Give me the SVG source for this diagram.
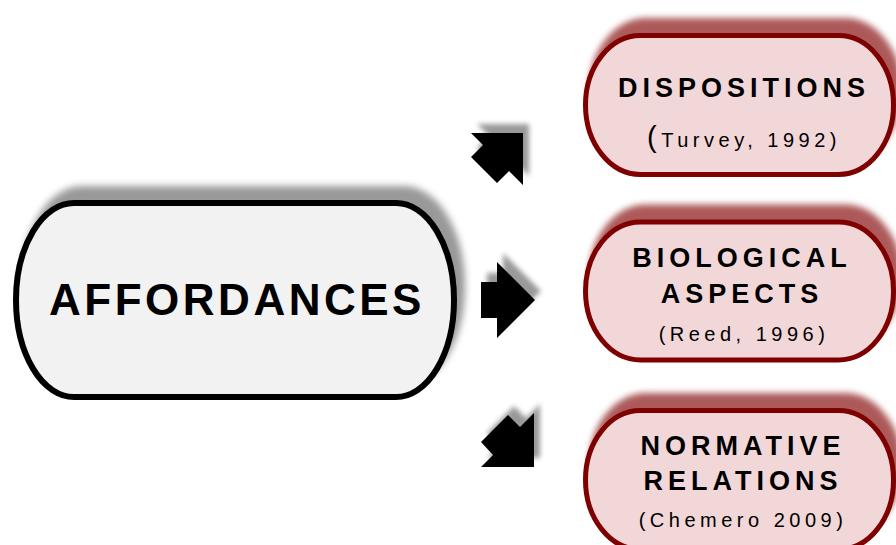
<svg xmlns="http://www.w3.org/2000/svg" width="896" height="545" viewBox="0 0 896 545">
<defs>
<filter id="shGrey" x="-20%" y="-30%" width="140%" height="160%">
<feGaussianBlur in="SourceAlpha" stdDeviation="3.5"/>
<feOffset dx="8" dy="-14" result="b"/>
<feFlood flood-color="#000" flood-opacity="0.4"/>
<feComposite in2="b" operator="in"/>
<feMerge><feMergeNode/><feMergeNode in="SourceGraphic"/></feMerge>
</filter>
<filter id="shRed" x="-20%" y="-40%" width="140%" height="180%">
<feGaussianBlur in="SourceAlpha" stdDeviation="3"/>
<feOffset dx="6" dy="-15" result="b"/>
<feFlood flood-color="#800000" flood-opacity="0.65"/>
<feComposite in2="b" operator="in"/>
<feMerge><feMergeNode/><feMergeNode in="SourceGraphic"/></feMerge>
</filter>
<filter id="shArrow" x="-40%" y="-40%" width="180%" height="180%">
<feGaussianBlur in="SourceAlpha" stdDeviation="2.5"/>
<feOffset dx="6" dy="-9" result="b"/>
<feFlood flood-color="#000" flood-opacity="0.4"/>
<feComposite in2="b" operator="in"/>
<feMerge><feMergeNode/><feMergeNode in="SourceGraphic"/></feMerge>
</filter>
<style>
.main{fill:#f2f2f2;stroke:#000;stroke-width:6}
.sub{fill:#f2d7d9;stroke:#7f0000;stroke-width:5}
.big{font-family:"Liberation Sans",Arial,sans-serif;font-weight:bold;font-size:44px;letter-spacing:3.5px;fill:#000}
.ttl{font-family:"Liberation Sans",Arial,sans-serif;font-weight:bold;font-size:27px;letter-spacing:5px;fill:#000}
.ref{font-family:"Liberation Sans",Arial,sans-serif;font-size:20px;letter-spacing:4.5px;fill:#000}
.arrow{fill:#000}
</style>
</defs>
<g id="affordances">
<rect class="main" x="16" y="203" width="438" height="194" rx="58" ry="97" filter="url(#shGrey)"/>
<text class="big" x="237" y="315" text-anchor="middle">AFFORDANCES</text>
</g>
<g id="dispositions">
<rect class="sub" x="585.5" y="35.5" width="308" height="139" rx="55" ry="69.5" filter="url(#shRed)"/>
<text class="ttl" x="744" y="97" text-anchor="middle">DISPOSITIONS</text>
<text class="ref" x="744" y="147" text-anchor="middle"><tspan font-size="29px">(</tspan>Turvey, 1992)</text>
</g>
<g id="biological">
<rect class="sub" x="585.5" y="222" width="308" height="138" rx="55" ry="69" filter="url(#shRed)"/>
<text class="ttl" x="742" y="267" text-anchor="middle">BIOLOGICAL</text>
<text class="ttl" x="742" y="303" text-anchor="middle">ASPECTS</text>
<text class="ref" x="744" y="341" text-anchor="middle">(Reed, 1996)</text>
</g>
<g id="normative">
<rect class="sub" x="585.5" y="410.5" width="308" height="139" rx="55" ry="69.5" filter="url(#shRed)"/>
<text class="ttl" x="743" y="455" text-anchor="middle">NORMATIVE</text>
<text class="ttl" x="743" y="490" text-anchor="middle">RELATIONS</text>
<text class="ref" x="743" y="527" text-anchor="middle">(Chemero 2009)</text>
</g>
<g id="connectors">
<polygon class="arrow" filter="url(#shArrow)" points="471,133 523,133 523,185 509,171 497,183 471,157 483,145"/>
<polygon class="arrow" filter="url(#shArrow)" points="481,282 497,282 497,262 535,300 497,338 497,318 481,318"/>
<polygon class="arrow" filter="url(#shArrow)" points="481,467 534,467 534,413 520,427 508,415 481,442 493,455"/>
</g>
</svg>
